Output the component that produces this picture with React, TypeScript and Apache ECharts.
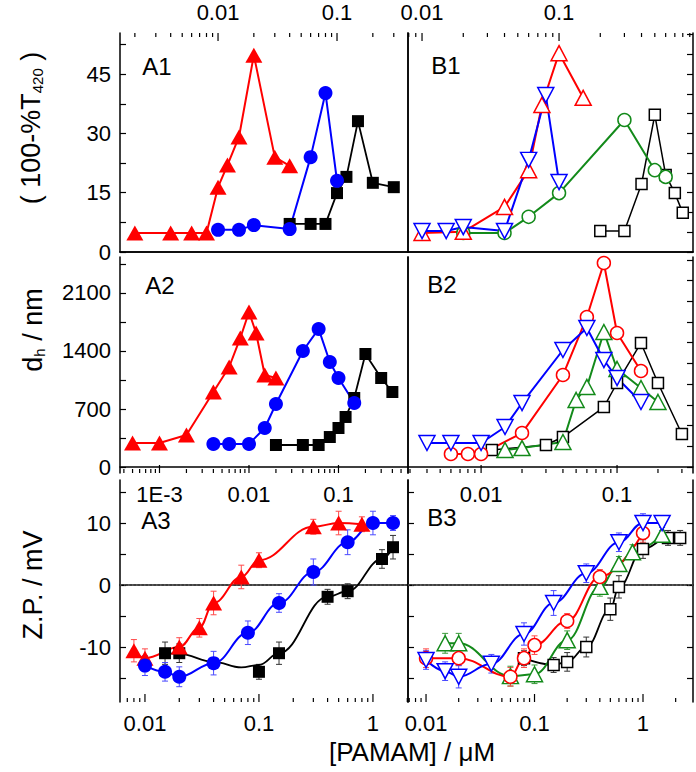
import React, { useEffect, useRef } from 'react';
import * as echarts from 'echarts';

const FONT = "'Liberation Sans', Arial, Helvetica, sans-serif";
const RED = '#ff0000';
const BLUE = '#0000ff';
const GREEN = '#138a1a';
const BLACK = '#000000';

// ---------- A1 : (100-%T420) ----------
const a1Red = [[0.002, 4.8], [0.004, 4.8], [0.006, 4.8], [0.008, 4.8], [0.01, 16.4], [0.012, 22], [0.015, 29.1], [0.02, 49.8], [0.03, 24], [0.04, 21.8]];
const a1Blue = [[0.01, 5.6], [0.015, 5.6], [0.02, 6.8], [0.04, 5.8], [0.06, 24], [0.08, 40.2], [0.1, 18]];
const a1Black = [[0.04, 7.1], [0.06, 7.1], [0.08, 7.1], [0.1, 14.9], [0.12, 19], [0.15, 33.1], [0.2, 17.5], [0.3, 16.4]];

// ---------- B1 ----------
const b1Red = [[0.01, 4.8], [0.02, 5.1], [0.04, 11.4], [0.06, 20.7], [0.075, 37.2], [0.1, 50.3], [0.15, 39]];
const b1Blue = [[0.01, 5.3], [0.015, 5.3], [0.02, 6.3], [0.04, 5.3], [0.06, 23.3], [0.08, 39.7], [0.1, 17.7]];
const b1Green = [[0.02, 4.8], [0.04, 4.8], [0.06, 8.9], [0.1, 14.9], [0.3, 33.4], [0.5, 20.7], [0.6, 19]];
const b1Black = [[0.2, 5.3], [0.3, 5.3], [0.4, 17.2], [0.5, 34.7], [0.6, 19.5], [0.7, 14.9], [0.8, 9.9]];

// ---------- A2 : d_h / nm ----------
const a2Red = [[0.0005, 290], [0.001, 290], [0.002, 386], [0.004, 905], [0.006, 1207], [0.008, 1557], [0.01, 1871], [0.012, 1617], [0.015, 1110], [0.02, 1074]];
const a2Blue = [[0.004, 278], [0.006, 278], [0.01, 278], [0.015, 471], [0.02, 760], [0.04, 1400], [0.06, 1666], [0.08, 1267], [0.1, 1074], [0.15, 772]];
const a2Black = [[0.02, 266], [0.04, 266], [0.06, 266], [0.08, 362], [0.1, 471], [0.12, 604], [0.15, 833], [0.2, 1364], [0.3, 1074], [0.4, 905]];

// ---------- B2 ----------
const b2Red = [[0.006, 157], [0.008, 157], [0.01, 157], [0.02, 410], [0.04, 1110], [0.06, 1810], [0.08, 2462], [0.1, 1617], [0.15, 1159]];
const b2Blue = [[0.004, 290], [0.006, 290], [0.01, 290], [0.015, 483], [0.02, 772], [0.04, 1412], [0.06, 1678], [0.08, 1291], [0.1, 1074], [0.15, 785]];
const b2Green = [[0.015, 205], [0.02, 229], [0.04, 302], [0.05, 809], [0.06, 966], [0.08, 1629], [0.1, 1183], [0.15, 953], [0.2, 785]];
const b2Black = [[0.012, 205], [0.03, 266], [0.04, 362], [0.08, 724], [0.1, 1014], [0.15, 1497], [0.2, 1014], [0.3, 398]];

// ---------- A3 : Z.P. / mV ----------
const a3Red = [[0.008, -10.6], [0.01, -11.8], [0.02, -10], [0.03, -6.9], [0.04, -2.9], [0.07, 1.3], [0.1, 4], [0.3, 9.4], [0.5, 10], [0.8, 9.8]];
const a3RedErr = [1.8, 1.5, 1.5, 1.5, 1.9, 1.9, 1.2, 1.2, 1.9, 1.2];
const a3Blue = [[0.01, -13], [0.015, -14], [0.02, -14.8], [0.04, -12.6], [0.08, -7.7], [0.15, -2.9], [0.3, 2.1], [0.6, 6.9], [1, 10], [1.5, 10]];
const a3BlueErr = [1.6, 1.5, 1.6, 1.9, 1.9, 1.5, 2.1, 2, 1.9, 1.2];
const a3Black = [[0.015, -11], [0.02, -11], [0.1, -14], [0.15, -11], [0.4, -1.9], [0.6, -1], [1.2, 4.2], [1.5, 6.1]];
const a3BlackErr = [1.8, 1.5, 1.2, 1.8, 1.2, 1.2, 1.5, 1.9];
const a3BlackFit = [[0.015, -11], [0.02, -11.1], [0.04, -12.4], [0.07, -13.3], [0.1, -12.9], [0.15, -11], [0.4, -1.9], [0.6, -1], [1.2, 4.2], [1.5, 6.1]];

// ---------- B3 ----------
const b3Blue = [[0.01, -12.1], [0.015, -13.9], [0.02, -14.8], [0.04, -12.7], [0.08, -7.9], [0.15, -2.9], [0.3, 1.9], [0.6, 6.9], [1, 10], [1.5, 10]];
const b3BlueErr = [1.5, 1.5, 1.8, 1.5, 1.8, 2, 1.5, 1.5, 1.5, 1.2];
const b3Red = [[0.01, -11.8], [0.02, -11.8], [0.06, -14.8], [0.08, -11.8], [0.1, -9.7], [0.2, -5.8], [0.4, 1.3], [1, 8.4]];
const b3RedErr = [1.5, 1.2, 1.5, 1.5, 1.5, 1.2, 1.2, 1.5];
const b3Green = [[0.015, -9.4], [0.02, -9.4], [0.06, -14.7], [0.1, -14.4], [0.2, -8.9], [0.4, -0.3], [0.6, 3.4], [0.8, 5.3], [1.5, 8.1]];
const b3GreenErr = [1.6, 1.6, 1.6, 1.5, 1.5, 1.5, 1.2, 1.2, 1.2];
const b3Black = [[0.08, -11.8], [0.15, -12.9], [0.2, -12.4], [0.3, -10], [0.5, -3.9], [0.6, -0.3], [1, 5.8], [1.7, 7.6], [2.2, 7.6]];
const b3BlackErr = [1.2, 1.2, 1.5, 1.6, 1.8, 1.8, 1.5, 1.2, 1.2];

// ---------- tick values ----------
const a1YLabels = [0, 15, 30, 45];
const a1YTicks = [0, 7.5, 15, 22.5, 30, 37.5, 45, 52.5];
const b1YTicks = [0, 5, 10, 15, 20, 25, 30, 35, 40, 45, 50, 55];
const a2YLabels = [0, 700, 1400, 2100];
const a2YTicks = [0, 350, 700, 1050, 1400, 1750, 2100, 2450];
const b2YTicks = [0, 250, 500, 750, 1000, 1250, 1500, 1750, 2000, 2250, 2500];
const a3YLabels = [-10, 0, 10];
const zpTicks = [-15, -10, -5, 0, 5, 10, 15];
const topXLabels = [0.01, 0.1];
const a2XLabels = [0.001, 0.01, 0.1];
const b2XLabels = [0.01, 0.1];
const bottomXLabels = [0.01, 0.1, 1];
const DECADE_LABELS: Record<string, string> = { '-3': '1E-3', '-2': '0.01', '-1': '0.1', '0': '1' };

type Panel = {
  left: number; top: number; width: number; height: number;
  xMin: number; xMax: number; xTop: boolean; xLabels: number[];
  yMin: number; yMax: number; yLabels?: number[]; leftTicks?: number[]; rightTicks?: number[];
};

const PANELS: Panel[] = [
  { left: 120, top: 33, width: 288, height: 219, xMin: 0.0015, xMax: 0.395, xTop: true, xLabels: topXLabels, yMin: 0, yMax: 55.4, yLabels: a1YLabels, leftTicks: a1YTicks },
  { left: 408, top: 33, width: 285, height: 219, xMin: 0.0079, xMax: 0.95, xTop: true, xLabels: topXLabels, yMin: 0, yMax: 55.4, rightTicks: b1YTicks },
  { left: 120, top: 257, width: 288, height: 216, xMin: 0.000362, xMax: 0.598, xTop: false, xLabels: a2XLabels, yMin: -72, yMax: 2534, yLabels: a2YLabels, leftTicks: a2YTicks },
  { left: 408, top: 257, width: 285, height: 216, xMin: 0.0029, xMax: 0.362, xTop: false, xLabels: b2XLabels, yMin: -72, yMax: 2534, rightTicks: b2YTicks },
  { left: 120, top: 480, width: 288, height: 222, xMin: 0.00604, xMax: 2.03, xTop: false, xLabels: bottomXLabels, yMin: -18.87, yMax: 16.94, yLabels: a3YLabels, leftTicks: zpTicks },
  { left: 408, top: 480, width: 285, height: 222, xMin: 0.00682, xMax: 2.89, xTop: false, xLabels: bottomXLabels, yMin: -18.87, yMax: 16.94, leftTicks: zpTicks, rightTicks: zpTicks },
];

function logFmt(v: number): string {
  const e = Math.log10(v);
  const r = Math.round(e);
  if (Math.abs(e - r) > 1e-6) return '';
  return DECADE_LABELS[String(r)] ?? '';
}

function logTicks(min: number, max: number): number[][] {
  const out: number[][] = [];
  for (let e = Math.floor(Math.log10(min)); e <= Math.ceil(Math.log10(max)); e++) {
    for (let m = 1; m <= 9; m++) {
      const v = m * Math.pow(10, e);
      if (v > min * 1.0001 && v < max * 0.9999) out.push([v, m === 1 ? 8 : 4]);
    }
  }
  return out;
}

const AXIS_LINE = { show: true, lineStyle: { color: '#000', width: 1.5 } };
const LABEL_STYLE = { fontSize: 22, fontFamily: FONT, color: '#000' };

type Mk = { symbol: string; size: number | number[]; rotate?: number; hollow: boolean };
const TRI: Mk = { symbol: 'triangle', size: [17, 15], hollow: false };
const CIR: Mk = { symbol: 'circle', size: 14, hollow: false };
const SQR: Mk = { symbol: 'rect', size: 12, hollow: false };
const hTRI: Mk = { symbol: 'triangle', size: [16, 15], hollow: true };
const hDOWN: Mk = { symbol: 'triangle', size: [16, 15], rotate: 180, hollow: true };
const hCIR: Mk = { symbol: 'circle', size: 13, hollow: true };
const hSQR: Mk = { symbol: 'rect', size: 11, hollow: true };

function lineSeries(pi: number, data: number[][], color: string, mk: Mk, opts: any = {}) {
  return {
    type: 'line',
    xAxisIndex: 2 * pi,
    yAxisIndex: 2 * pi,
    data,
    symbol: mk.symbol,
    symbolSize: mk.size,
    symbolRotate: mk.rotate ?? 0,
    showSymbol: true,
    itemStyle: mk.hollow
      ? { color: '#ffffff', borderColor: color, borderWidth: 1.5, opacity: 1 }
      : { color, borderWidth: 0, opacity: 1 },
    lineStyle: { color, width: opts.lineWidth ?? 2 },
    smooth: opts.smooth ?? false,
    smoothMonotone: 'x',
    z: 3,
    silent: true,
  };
}

function errSeries(pi: number, data: number[][], err: number[], color: string) {
  const d = data.map((p, k) => [p[0], p[1], err[k]]);
  return {
    type: 'custom',
    xAxisIndex: 2 * pi,
    yAxisIndex: 2 * pi,
    silent: true,
    z: 2,
    data: d,
    renderItem: (params: any, api: any) => {
      const x = api.value(0);
      const y = api.value(1);
      const e = api.value(2);
      const lo = api.coord([x, y - e]);
      const hi = api.coord([x, y + e]);
      const w = 3;
      const st = { stroke: color, lineWidth: 1 };
      return {
        type: 'group',
        children: [
          { type: 'line', shape: { x1: lo[0], y1: lo[1], x2: hi[0], y2: hi[1] }, style: st },
          { type: 'line', shape: { x1: lo[0] - w, y1: lo[1], x2: lo[0] + w, y2: lo[1] }, style: st },
          { type: 'line', shape: { x1: hi[0] - w, y1: hi[1], x2: hi[0] + w, y2: hi[1] }, style: st },
        ],
      };
    },
  };
}

function buildOption() {
  const grid: any[] = [];
  const xAxis: any[] = [];
  const yAxis: any[] = [];
  const series: any[] = [];

  PANELS.forEach((p, i) => {
    grid.push({ left: p.left, top: p.top, width: p.width, height: p.height, containLabel: false, outerBoundsMode: 'none' });
    xAxis.push({
      type: 'log', logBase: 10, gridIndex: i, position: p.xTop ? 'top' : 'bottom',
      min: p.xMin, max: p.xMax,
      axisLine: AXIS_LINE, axisTick: { show: false }, minorTick: { show: false }, splitLine: { show: false },
      axisLabel: { show: true, customValues: p.xLabels, formatter: logFmt, margin: 10, ...LABEL_STYLE },
    });
    xAxis.push({
      type: 'value', gridIndex: i, position: p.xTop ? 'bottom' : 'top', min: 0, max: 1, show: p.xTop,
      axisLine: AXIS_LINE, axisTick: { show: false }, axisLabel: { show: false }, splitLine: { show: false },
    });
    yAxis.push({
      type: 'value', gridIndex: i, position: 'left', min: p.yMin, max: p.yMax,
      axisLine: AXIS_LINE,
      axisTick: p.leftTicks ? { show: true, inside: true, length: 6, customValues: p.leftTicks, lineStyle: { color: '#000', width: 1.2 } } : { show: false },
      axisLabel: p.yLabels
        ? { show: true, customValues: p.yLabels, formatter: (v: number) => String(v), margin: 9, ...LABEL_STYLE }
        : { show: false },
      splitLine: { show: false },
    });
    yAxis.push({
      type: 'value', gridIndex: i, position: 'right', min: p.yMin, max: p.yMax,
      axisLine: AXIS_LINE,
      axisTick: p.rightTicks ? { show: true, inside: true, length: 6, customValues: p.rightTicks, lineStyle: { color: '#000', width: 1.2 } } : { show: false },
      axisLabel: { show: false },
      splitLine: { show: false },
    });
    // log ticks (major + minor) drawn through the log scale
    series.push({
      type: 'custom', xAxisIndex: 2 * i, yAxisIndex: 2 * i, silent: true, z: 6,
      data: logTicks(p.xMin, p.xMax),
      renderItem: (params: any, api: any) => {
        const v = api.value(0);
        const len = api.value(1);
        const pt = api.coord([v, p.xTop ? p.yMax : p.yMin]);
        const dir = p.xTop ? 1 : -1;
        return { type: 'line', shape: { x1: pt[0], y1: pt[1], x2: pt[0], y2: pt[1] + dir * len }, style: { stroke: '#000', lineWidth: 1.2 } };
      },
    });
  });

  // zero reference lines in A3 / B3 (dotted)
  [4, 5].forEach((pi) => {
    const p = PANELS[pi];
    series.push({
      type: 'custom', xAxisIndex: 2 * pi, yAxisIndex: 2 * pi, silent: true, z: 1,
      data: [[p.xMin, 0, p.xMax]],
      renderItem: (params: any, api: any) => {
        const a = api.coord([api.value(0), api.value(1)]);
        const b = api.coord([api.value(2), api.value(1)]);
        return {
          type: 'line',
          shape: { x1: a[0], y1: a[1], x2: b[0], y2: b[1] },
          style: { stroke: '#777777', lineWidth: 1, lineDash: [1.5, 2.5] },
        };
      },
    });
  });

  // A1
  series.push(lineSeries(0, a1Black, BLACK, SQR, { lineWidth: 1.8 }));
  series.push(lineSeries(0, a1Red, RED, TRI));
  series.push(lineSeries(0, a1Blue, BLUE, CIR));
  // B1
  series.push(lineSeries(1, b1Black, BLACK, hSQR, { lineWidth: 1.5 }));
  series.push(lineSeries(1, b1Green, GREEN, hCIR));
  series.push(lineSeries(1, b1Red, RED, hTRI));
  series.push(lineSeries(1, b1Blue, BLUE, hDOWN));
  // A2
  series.push(lineSeries(2, a2Black, BLACK, SQR, { lineWidth: 1.8 }));
  series.push(lineSeries(2, a2Red, RED, TRI));
  series.push(lineSeries(2, a2Blue, BLUE, CIR));
  // B2
  series.push(lineSeries(3, b2Black, BLACK, hSQR, { lineWidth: 1.5 }));
  series.push(lineSeries(3, b2Green, GREEN, hTRI));
  series.push(lineSeries(3, b2Red, RED, hCIR));
  series.push(lineSeries(3, b2Blue, BLUE, hDOWN));
  // A3
  series.push(errSeries(4, a3Black, a3BlackErr, '#333333'));
  series.push(errSeries(4, a3Red, a3RedErr, '#ff4a4a'));
  series.push(errSeries(4, a3Blue, a3BlueErr, '#4a4aff'));
  series.push({
    type: 'line', xAxisIndex: 8, yAxisIndex: 8, silent: true, z: 3, data: a3BlackFit, symbol: 'none',
    smooth: 0.4, smoothMonotone: 'x', lineStyle: { color: BLACK, width: 1.8 },
  });
  series.push({
    type: 'scatter', xAxisIndex: 8, yAxisIndex: 8, silent: true, z: 3, data: a3Black,
    symbol: 'rect', symbolSize: 12, itemStyle: { color: BLACK, opacity: 1 },
  });
  series.push(lineSeries(4, a3Red, RED, TRI, { smooth: 0.4 }));
  series.push(lineSeries(4, a3Blue, BLUE, CIR, { smooth: 0.4 }));
  // B3
  series.push(errSeries(5, b3Black, b3BlackErr, '#333333'));
  series.push(errSeries(5, b3Green, b3GreenErr, '#3a9a3a'));
  series.push(errSeries(5, b3Red, b3RedErr, '#ff4a4a'));
  series.push(errSeries(5, b3Blue, b3BlueErr, '#4a4aff'));
  series.push(lineSeries(5, b3Black, BLACK, hSQR, { smooth: 0.4, lineWidth: 1.8 }));
  series.push(lineSeries(5, b3Green, GREEN, hTRI, { smooth: 0.4 }));
  series.push(lineSeries(5, b3Red, RED, hCIR, { smooth: 0.4 }));
  series.push(lineSeries(5, b3Blue, BLUE, hDOWN, { smooth: 0.4 }));

  const panelLabel = (text: string, x: number, y: number) => ({
    type: 'text', x, y, silent: true,
    style: { text, fontSize: 24, fontFamily: FONT, fill: '#000', align: 'center', verticalAlign: 'middle' },
  });
  const yTitle = (text: string, x: number, y: number, rich?: any) => ({
    type: 'text', x, y, rotation: Math.PI / 2, silent: true,
    style: { text, fontSize: 27, fontFamily: FONT, fill: '#000', align: 'center', verticalAlign: 'middle', rich },
  });
  const subRich = { s: { fontSize: 15, fontFamily: FONT, fill: '#000', verticalAlign: 'bottom', lineHeight: 15 } };

  const graphic = [
    panelLabel('A1', 157, 66),
    panelLabel('B1', 446, 65),
    panelLabel('A2', 160, 285),
    panelLabel('B2', 442, 284),
    panelLabel('A3', 156, 520),
    panelLabel('B3', 442, 517),
    yTitle('( 100-%T{s|420} )', 31, 128, subRich),
    yTitle('d{s|h} / nm', 33, 330, subRich),
    yTitle('Z.P. / mV', 33, 585),
    {
      type: 'text', x: 412, y: 752, silent: true,
      style: { text: '[PAMAM] / μM', fontSize: 26, fontFamily: FONT, fill: '#000', align: 'center', verticalAlign: 'middle' },
    },
  ];

  return {
    animation: false,
    backgroundColor: '#ffffff',
    grid,
    xAxis,
    yAxis,
    series,
    graphic,
  };
}

export default function App() {
  const ref = useRef<HTMLDivElement>(null);
  useEffect(() => {
    if (!ref.current) return;
    const chart = echarts.init(ref.current, null, { renderer: 'svg' });
    chart.setOption(buildOption() as any);
    return () => chart.dispose();
  }, []);
  return (
    <div
      ref={ref}
      style={{ position: 'absolute', left: 0, top: 0, width: 696, height: 772, background: '#fff' }}
    />
  );
}
